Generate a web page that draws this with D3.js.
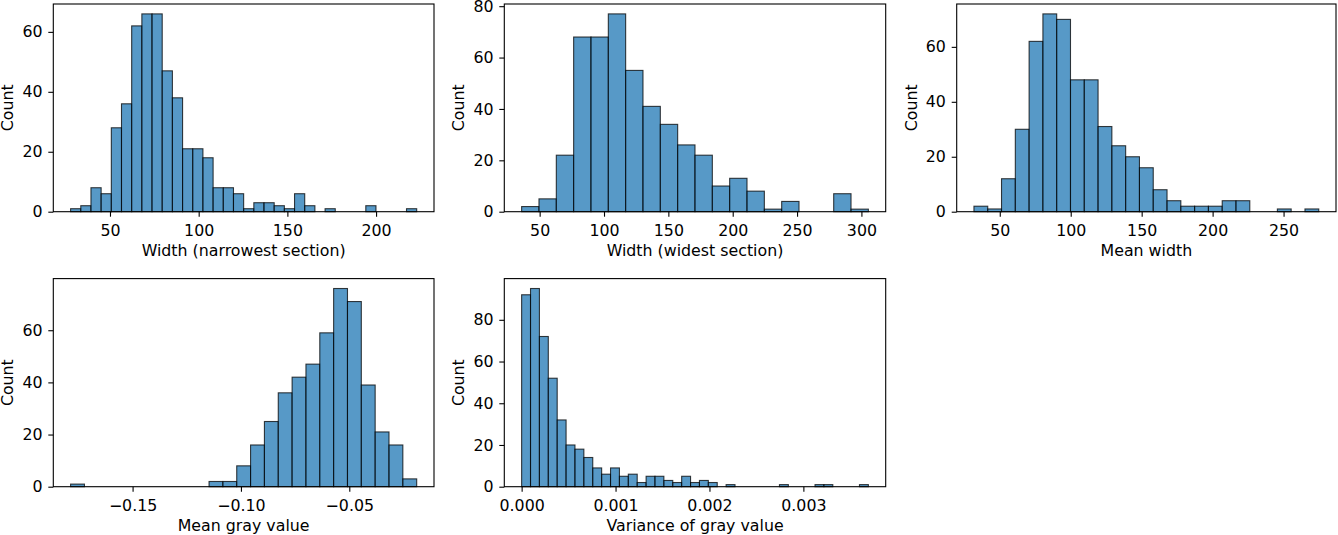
<!DOCTYPE html>
<html>
<head>
<meta charset="utf-8">
<script src="https://cdn.jsdelivr.net/npm/d3@7"></script>
<style>
  html, body { margin: 0; padding: 0; background: #fff; }
  text { font-family: "DejaVu Sans", sans-serif; }
</style>
</head>
<body>
<div id="chart"></div>
<script>
(function () {
  'use strict';

  // bin counts, with the data range each histogram spans
  var narrowCounts = [1, 2, 8, 6, 28, 36, 62, 66, 66, 47, 38, 21, 21, 18, 8, 8, 6, 1, 3, 3, 2, 1, 6, 2, 0, 1, 0, 0, 0, 2, 0, 0, 0, 1];
  var narrowRange = [27.8, 222.9];
  var narrowTicks = [50, 100, 150, 200];

  var widestCounts = [2, 5, 22, 68, 68, 77, 55, 41, 34, 26, 22, 10, 13, 8, 1, 4, 0, 0, 7, 1];
  var widestRange = [36.0, 305.4];
  var widestTicks = [50, 100, 150, 200, 250, 300];

  var meanWidthCounts = [2, 1, 12, 30, 62, 72, 70, 48, 48, 31, 24, 20, 16, 8, 4, 2, 2, 2, 4, 4, 0, 0, 1, 0, 1];
  var meanWidthRange = [31.8, 274.8];
  var meanWidthTicks = [50, 100, 150, 200, 250];

  var grayCounts = [1, 0, 0, 0, 0, 0, 0, 0, 0, 0, 2, 2, 8, 16, 25, 36, 42, 47, 59, 76, 71, 39, 21, 16, 3];
  var grayRange = [-0.1786, -0.0189];
  var grayTicks = [-0.15, -0.10, -0.05];

  var varCounts = [92, 95, 72, 52, 32, 20, 18, 14, 9, 6, 9, 5, 6, 2, 5, 5, 3, 2, 5, 2, 3, 2, 0, 1, 0, 0, 0, 0, 0, 1, 0, 0, 0, 1, 1, 0, 0, 0, 1];
  var varRange = [0.0, 0.003692];
  var varTicks = [0.000, 0.001, 0.002, 0.003];

  var countTicksA = [0, 20, 40, 60];
  var countTicksB = [0, 20, 40, 60, 80];

  var W = 1338, H = 535,
      fontSize = 15.8,
      barFill = '#1f77b4';

  var minus = function (s) { return s.replace('-', '\u2212'); };

  var panels = [
    {counts: narrowCounts, range: narrowRange, xticks: narrowTicks, yticks: countTicksA,
     fmt: d3.format('d'), label: 'Width (narrowest section)', box: [53.3, 4, 380.7, 207.7]},
    {counts: widestCounts, range: widestRange, xticks: widestTicks, yticks: countTicksB,
     fmt: d3.format('d'), label: 'Width (widest section)', box: [504.3, 4, 381.4, 207.7]},
    {counts: meanWidthCounts, range: meanWidthRange, xticks: meanWidthTicks, yticks: countTicksA,
     fmt: d3.format('d'), label: 'Mean width', box: [956.7, 4, 379.3, 207.7]},
    {counts: grayCounts, range: grayRange, xticks: grayTicks, yticks: countTicksA,
     fmt: function (d) { return minus(d3.format('.2f')(d)); }, label: 'Mean gray value', box: [53.3, 278.6, 380.7, 208.1]},
    {counts: varCounts, range: varRange, xticks: varTicks, yticks: countTicksB,
     fmt: d3.format('.3f'), label: 'Variance of gray value', box: [504.3, 278.6, 381.4, 208.1]}
  ];

  var svg = d3.select('#chart')
    .append('svg')
    .attr('width', W)
    .attr('height', H)
    .attr('viewBox', '0 0 ' + W + ' ' + H);

  svg.append('rect')
    .attr('width', W)
    .attr('height', H)
    .attr('fill', '#fff');

  panels.forEach(function (p) {
    var left = p.box[0], top = p.box[1], w = p.box[2], h = p.box[3];
    var n = p.counts.length,
        span = p.range[1] - p.range[0],
        step = span / n,
        pad = span * 0.05,
        ymax = d3.max(p.counts) * 1.05;

    var x = d3.scaleLinear()
      .domain([p.range[0] - pad, p.range[1] + pad])
      .range([0, w]);
    var y = d3.scaleLinear()
      .domain([0, ymax])
      .range([h, 0]);

    var g = svg.append('g')
      .attr('transform', 'translate(' + left + ',' + top + ')');

    var bins = p.counts.map(function (c, i) {
      return {x0: p.range[0] + i * step, x1: p.range[0] + (i + 1) * step, count: c};
    });

    g.selectAll('rect.bar')
      .data(bins)
      .enter()
      .append('rect')
      .attr('class', 'bar')
      .attr('x', function (d) { return x(d.x0); })
      .attr('y', function (d) { return y(d.count); })
      .attr('width', function (d) { return x(d.x1) - x(d.x0); })
      .attr('height', function (d) { return h - y(d.count); })
      .attr('fill', barFill)
      .attr('fill-opacity', 0.75)
      .attr('stroke', '#000')
      .attr('stroke-opacity', 0.75)
      .attr('stroke-width', 1.1);

    var xAxis = g.append('g')
      .attr('transform', 'translate(0,' + h + ')')
      .call(d3.axisBottom(x)
        .tickValues(p.xticks)
        .tickFormat(p.fmt)
        .tickSize(5)
        .tickSizeOuter(0)
        .tickPadding(7.8));

    var yAxis = g.append('g')
      .call(d3.axisLeft(y)
        .tickValues(p.yticks)
        .tickFormat(d3.format('d'))
        .tickSize(5)
        .tickSizeOuter(0)
        .tickPadding(5.8));

    [xAxis, yAxis].forEach(function (ax) {
      ax.select('.domain').remove();
      ax.selectAll('line').attr('stroke', '#000').attr('stroke-width', 1.1);
      ax.selectAll('text')
        .attr('fill', '#000')
        .style('font-family', '"DejaVu Sans", sans-serif')
        .style('font-size', fontSize + 'px');
    });

    g.append('rect')
      .attr('width', w)
      .attr('height', h)
      .attr('fill', 'none')
      .attr('stroke', '#000')
      .attr('stroke-width', 1.1);

    g.append('text')
      .attr('x', w / 2)
      .attr('y', h + 44.5)
      .attr('text-anchor', 'middle')
      .style('font-size', fontSize + 'px')
      .attr('fill', '#000')
      .text(p.label);

    g.append('text')
      .attr('transform', 'translate(-40,' + (h / 2) + ') rotate(-90)')
      .attr('text-anchor', 'middle')
      .style('font-size', fontSize + 'px')
      .attr('fill', '#000')
      .text('Count');
  });
}());
</script>
</body>
</html>
